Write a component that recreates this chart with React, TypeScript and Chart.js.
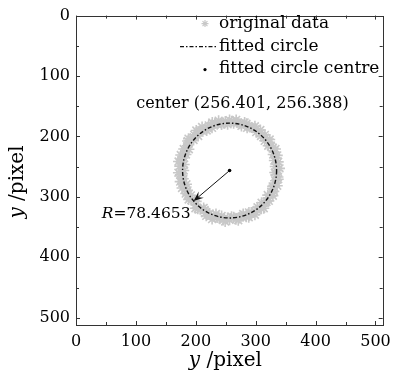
import React, { useEffect, useRef } from "react";
import { Chart, registerables } from "chart.js";

Chart.register(...registerables);

// Axis range and tick values (pixel coordinates of the image)
const AXIS_MAX = 512;
const MAJOR_TICKS = [0, 100, 200, 300, 400, 500];
const MINOR_TICKS = [50, 150, 250, 350, 450];

// Detected edge points (original data)
const origX = [
  336.9, 333.6, 337.6, 333.2, 328.3, 330.3, 328.7, 320.7, 318.1, 309.8, 309.4, 302.0,
  298.7, 288.7, 284.3, 276.7, 270.9, 263.2, 256.4, 249.0, 243.1, 235.6, 227.2, 223.2,
  215.7, 213.1, 203.4, 200.2, 197.8, 188.0, 186.7, 186.2, 177.0, 177.7, 179.1, 174.2,
  179.9, 173.2, 171.2, 178.6, 183.6, 179.8, 185.8, 186.4, 196.3, 197.4, 200.8, 210.2,
  218.2, 221.5, 227.5, 235.8, 243.0, 249.3, 256.4, 263.2, 270.4, 276.2, 284.6, 290.0,
  298.7, 300.9, 308.2, 315.4, 315.0, 323.2, 325.3, 333.0, 329.2, 334.2, 337.6, 332.6,
  331.8, 337.2, 333.0, 336.0, 328.0, 327.8, 320.1, 321.9, 315.0, 313.5, 303.0, 299.7,
  292.6, 288.4, 279.1, 273.6, 267.0, 259.7, 253.0, 245.6, 239.0, 233.7, 225.2, 217.4,
  214.8, 207.4, 199.3, 200.7, 192.5, 191.9, 183.2, 183.0, 184.4, 173.9, 176.6, 171.0,
  177.0, 180.6, 175.9, 174.9, 182.0, 188.5, 187.7, 187.8, 196.3, 204.0, 206.2, 210.5,
  219.7, 227.1, 231.9, 238.1, 246.0, 253.1, 260.0, 267.4, 273.6, 281.5, 285.7, 293.6,
  300.2, 307.8, 308.8, 315.8, 323.4, 320.9, 328.7, 330.8, 336.0, 331.1, 335.2, 339.8,
];
const origY = [
  256.4, 263.2, 270.7, 277.0, 282.6, 290.8, 298.2, 301.4, 308.2, 309.8, 319.6, 321.5,
  329.6, 325.7, 333.0, 332.2, 338.6, 333.6, 337.9, 340.6, 331.7, 334.2, 336.7, 327.5,
  327.0, 318.3, 319.6, 312.6, 305.6, 304.3, 296.7, 289.2, 285.3, 277.5, 270.0, 263.6,
  256.4, 249.1, 241.4, 235.6, 229.9, 220.7, 215.6, 207.4, 205.9, 197.4, 190.1, 190.5,
  190.2, 181.6, 177.0, 179.6, 180.1, 175.2, 172.9, 178.2, 177.1, 182.5, 178.9, 184.3,
  183.2, 192.9, 194.7, 197.4, 207.2, 209.7, 216.7, 220.7, 229.9, 235.6, 242.1, 249.7,
  259.7, 267.0, 273.4, 281.5, 286.1, 293.6, 297.0, 306.6, 310.1, 318.7, 317.1, 324.3,
  326.0, 333.6, 328.4, 334.0, 337.2, 332.8, 334.8, 338.2, 335.0, 328.4, 331.7, 331.4,
  321.8, 320.3, 318.7, 307.4, 305.4, 297.5, 294.5, 286.8, 279.1, 274.7, 266.9, 260.1,
  252.9, 246.4, 238.6, 230.7, 225.6, 221.1, 212.6, 203.7, 201.3, 199.3, 190.9, 184.3,
  185.9, 185.7, 178.7, 173.9, 177.6, 180.0, 175.0, 172.6, 178.8, 176.8, 185.7, 185.0,
  187.7, 189.4, 199.3, 202.0, 205.0, 215.3, 218.8, 225.6, 231.3, 239.9, 246.0, 252.8,
];

// Fit result
const centreX = 256.401;
const centreY = 256.388;
const radius = 78.4653;
// Point on the circle where the radius arrow ends
const arrowEndX = 196.3;
const arrowEndY = 306.9;

const legendLabels = ["original data", "fitted circle", "fitted circle centre"];
const axisTitleVar = "y";
const axisTitleUnit = " /pixel";

const FONT = '"DejaVu Serif", serif';
const FRAME = "#333";
const STAR_GREY = "#c8c8c8";

function drawStar(ctx: CanvasRenderingContext2D, x: number, y: number, r: number) {
  ctx.beginPath();
  for (let k = 0; k < 4; k++) {
    const a = (k * Math.PI) / 4;
    ctx.moveTo(x - r * Math.cos(a), y - r * Math.sin(a));
    ctx.lineTo(x + r * Math.cos(a), y + r * Math.sin(a));
  }
  ctx.stroke();
}

const decor = {
  id: "decor",
  afterDatasetsDraw(chart: any) {
    const { ctx, scales } = chart;
    const x = scales.x;
    const y = scales.y;
    const cx = x.getPixelForValue(centreX);
    const cy = y.getPixelForValue(centreY);
    const rx = Math.abs(x.getPixelForValue(centreX + radius) - cx);
    const ry = Math.abs(y.getPixelForValue(centreY + radius) - cy);
    ctx.save();
    // fitted circle, dash-dot
    ctx.beginPath();
    ctx.setLineDash([4, 2, 1.5, 2]);
    ctx.lineWidth = 1.4;
    ctx.strokeStyle = "#111";
    ctx.ellipse(cx, cy, rx, ry, 0, 0, Math.PI * 2);
    ctx.stroke();
    ctx.setLineDash([]);

    // radius arrow
    const ex = x.getPixelForValue(arrowEndX);
    const ey = y.getPixelForValue(arrowEndY);
    const ang = Math.atan2(ey - cy, ex - cx);
    const len = 10;
    const wing = 4;
    const bx = ex - len * Math.cos(ang);
    const by = ey - len * Math.sin(ang);
    ctx.beginPath();
    ctx.lineWidth = 1;
    ctx.strokeStyle = "#111";
    ctx.moveTo(cx, cy);
    ctx.lineTo(ex - 4 * Math.cos(ang), ey - 4 * Math.sin(ang));
    ctx.stroke();
    ctx.beginPath();
    ctx.fillStyle = "#111";
    ctx.moveTo(ex, ey);
    ctx.lineTo(bx - wing * Math.sin(ang), by + wing * Math.cos(ang));
    ctx.lineTo(ex - 0.6 * len * Math.cos(ang), ey - 0.6 * len * Math.sin(ang));
    ctx.lineTo(bx + wing * Math.sin(ang), by - wing * Math.cos(ang));
    ctx.closePath();
    ctx.fill();
    ctx.restore();
  },
  afterDraw(chart: any) {
    const { ctx, chartArea, scales } = chart;
    const x = scales.x;
    const y = scales.y;
    const { left, right, top, bottom } = chartArea;
    ctx.save();

    // frame with inward ticks on all four sides
    ctx.strokeStyle = FRAME;
    ctx.lineWidth = 1;
    ctx.strokeRect(Math.round(left) + 0.5, Math.round(top) + 0.5, Math.round(right - left), Math.round(bottom - top));
    ctx.beginPath();
    const tick = (v: number, l: number) => {
      const px = Math.round(x.getPixelForValue(v)) + 0.5;
      ctx.moveTo(px, bottom);
      ctx.lineTo(px, bottom - l);
      ctx.moveTo(px, top);
      ctx.lineTo(px, top + l);
      const py = Math.round(y.getPixelForValue(v)) + 0.5;
      ctx.moveTo(left, py);
      ctx.lineTo(left + l, py);
      ctx.moveTo(right, py);
      ctx.lineTo(right - l, py);
    };
    MAJOR_TICKS.forEach((v) => tick(v, 4));
    MINOR_TICKS.forEach((v) => tick(v, 3));
    ctx.stroke();

    // legend
    ctx.fillStyle = "#000";
    ctx.font = `17px ${FONT}`;
    ctx.textBaseline = "middle";
    ctx.textAlign = "left";
    const lx = left + 129;
    const tx = left + 143;
    const rows = [top + 8, top + 31, top + 53];
    ctx.strokeStyle = STAR_GREY;
    ctx.lineWidth = 1.2;
    drawStar(ctx, lx, rows[0], 3.5);
    ctx.strokeStyle = "#111";
    ctx.beginPath();
    ctx.setLineDash([4, 2, 1.5, 2]);
    ctx.moveTo(left + 104, rows[1]);
    ctx.lineTo(tx - 1, rows[1]);
    ctx.stroke();
    ctx.setLineDash([]);
    ctx.beginPath();
    ctx.arc(lx, rows[2] + 1, 1.6, 0, Math.PI * 2);
    ctx.fill();
    legendLabels.forEach((t, i) => ctx.fillText(t, tx, rows[i]));

    // annotations
    ctx.textAlign = "center";
    ctx.font = `16px ${FONT}`;
    ctx.fillText(
      `center (${centreX.toFixed(3)}, ${centreY.toFixed(3)})`,
      x.getPixelForValue(278),
      y.getPixelForValue(146)
    );
    ctx.textAlign = "left";
    const rxp = x.getPixelForValue(43);
    const ryp = y.getPixelForValue(328);
    ctx.font = `italic 15.5px ${FONT}`;
    ctx.fillText("R", rxp, ryp);
    const rw = ctx.measureText("R").width;
    ctx.font = `15.5px ${FONT}`;
    ctx.fillText(`=${radius.toFixed(4)}`, rxp + rw, ryp);

    // axis titles
    const drawTitle = (cxp: number, cyp: number) => {
      ctx.font = `italic 20px ${FONT}`;
      const w1 = ctx.measureText(axisTitleVar).width;
      ctx.font = `20px ${FONT}`;
      const w2 = ctx.measureText(axisTitleUnit).width;
      const start = cxp - (w1 + w2) / 2;
      ctx.textAlign = "left";
      ctx.font = `italic 20px ${FONT}`;
      ctx.fillText(axisTitleVar, start, cyp);
      ctx.font = `20px ${FONT}`;
      ctx.fillText(axisTitleUnit, start + w1, cyp);
    };
    drawTitle((left + right) / 2 - 4, 361);
    ctx.save();
    ctx.translate(18, 182);
    ctx.rotate(-Math.PI / 2);
    drawTitle(0, 0);
    ctx.restore();

    ctx.restore();
  },
};

export default function App() {
  const ref = useRef<HTMLCanvasElement | null>(null);

  useEffect(() => {
    document.body.style.margin = "0";
    const canvas = ref.current;
    if (!canvas) return;
    const chart = new Chart(canvas, {
      type: "scatter",
      data: {
        datasets: [
          {
            label: legendLabels[0],
            data: origX.map((v, i) => ({ x: v, y: origY[i] })),
            pointStyle: "star",
            pointRadius: 5.5,
            borderColor: STAR_GREY,
            backgroundColor: STAR_GREY,
            borderWidth: 1.6,
          },
          {
            label: legendLabels[2],
            data: [{ x: centreX, y: centreY }],
            pointRadius: 1.8,
            borderWidth: 0,
            backgroundColor: "#000",
          },
        ],
      },
      options: {
        animation: false,
        responsive: false,
        devicePixelRatio: 1,
        layout: { padding: { top: 13, right: 10, left: 0, bottom: 0 } },
        plugins: { legend: { display: false }, tooltip: { enabled: false } },
        scales: {
          x: {
            type: "linear",
            min: 0,
            max: AXIS_MAX,
            grid: { display: false, drawTicks: false },
            border: { display: false },
            ticks: {
              stepSize: 100,
              includeBounds: false,
              padding: 7,
              color: "#000",
              font: { family: FONT, size: 16 },
              maxRotation: 0,
            },
            afterFit: (s: any) => {
              s.height = 52;
            },
          },
          y: {
            type: "linear",
            reverse: true,
            min: 0,
            max: AXIS_MAX,
            grid: { display: false, drawTicks: false },
            border: { display: false },
            ticks: {
              stepSize: 100,
              includeBounds: false,
              padding: 6,
              color: "#000",
              font: { family: FONT, size: 16 },
            },
            afterFit: (s: any) => {
              s.width = 76;
            },
          },
        },
      },
      plugins: [decor],
    });
    return () => chart.destroy();
  }, []);

  return (
    <div style={{ width: 398, height: 377, background: "#fff" }}>
      <canvas ref={ref} width={398} height={377} />
    </div>
  );
}
